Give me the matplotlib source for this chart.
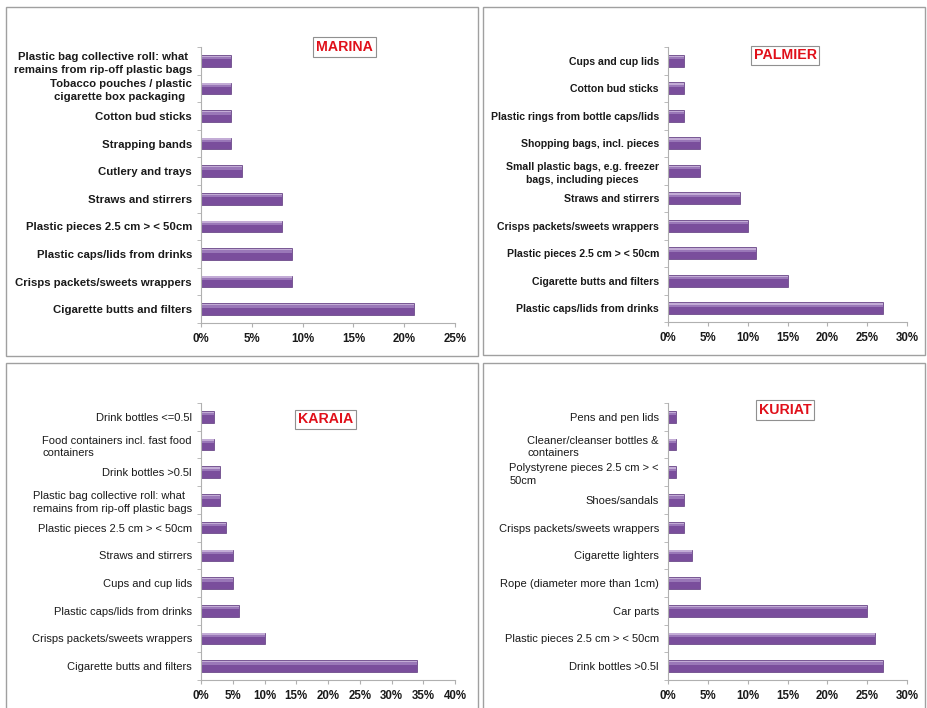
import matplotlib.pyplot as plt
from matplotlib.patches import Rectangle
from matplotlib.ticker import FuncFormatter
import numpy as np

plt.rcParams['font.family'] = ['Liberation Sans', 'DejaVu Sans']

W, H = 927, 708

# ---- data (listed bottom -> top, as drawn) ----
marina_labels = ['Cigarette butts and filters', 'Crisps packets/sweets wrappers',
                 'Plastic caps/lids from drinks', 'Plastic pieces 2.5 cm > < 50cm',
                 'Straws and stirrers', 'Cutlery and trays', 'Strapping bands',
                 'Cotton bud sticks', 'Tobacco pouches / plastic\ncigarette box packaging ',
                 'Plastic bag collective roll: what\nremains from rip-off plastic bags']
marina_values = [21, 9, 9, 8, 8, 4, 3, 3, 3, 3]

palmier_labels = ['Plastic caps/lids from drinks', 'Cigarette butts and filters',
                  'Plastic pieces 2.5 cm > < 50cm', 'Crisps packets/sweets wrappers',
                  'Straws and stirrers', 'Small plastic bags, e.g. freezer\nbags, including pieces',
                  'Shopping bags, incl. pieces', 'Plastic rings from bottle caps/lids',
                  'Cotton bud sticks', 'Cups and cup lids']
palmier_values = [27, 15, 11, 10, 9, 4, 4, 2, 2, 2]

karaia_labels = ['Cigarette butts and filters', 'Crisps packets/sweets wrappers',
                 'Plastic caps/lids from drinks', 'Cups and cup lids', 'Straws and stirrers',
                 'Plastic pieces 2.5 cm > < 50cm',
                 'Plastic bag collective roll: what\nremains from rip-off plastic bags',
                 'Drink bottles >0.5l', 'Food containers incl. fast food\ncontainers',
                 'Drink bottles <=0.5l']
karaia_values = [34, 10, 6, 5, 5, 4, 3, 3, 2, 2]

kuriat_labels = ['Drink bottles >0.5l', 'Plastic pieces 2.5 cm > < 50cm', 'Car parts',
                 'Rope (diameter more than 1cm)', 'Cigarette lighters',
                 'Crisps packets/sweets wrappers', 'Shoes/sandals',
                 'Polystyrene pieces 2.5 cm > <\n50cm', 'Cleaner/cleanser bottles &\ncontainers',
                 'Pens and pen lids']
kuriat_values = [27, 26, 25, 4, 3, 2, 2, 1, 1, 1]


def px_rect(x0, y0, x1, y1):
    return [x0 / W, 1 - y1 / H, (x1 - x0) / W, (y1 - y0) / H]


fig = plt.figure(figsize=(W / 100, H / 100), dpi=100)

# panel frames
for (x0, y0, x1, y1) in [(6, 7, 478, 356), (483, 7, 925, 355),
                         (6, 363, 478, 712), (483, 363, 925, 712)]:
    fig.patches.append(Rectangle((x0 / W, 1 - y1 / H), (x1 - x0) / W, (y1 - y0) / H,
                                 transform=fig.transFigure, fill=False,
                                 edgecolor='#a0a0a0', linewidth=1.0))


def panel(rect, labels, values, xmax, title, tpos, bold, align, lsize):
    ax = fig.add_axes(px_rect(*rect))
    y = np.arange(len(values))
    ax.barh(y, values, height=0.42, color='#7a4e9c', edgecolor='#5e3a7d', linewidth=0.5)
    # lighter band near the top of each bar, a rough stand-in for the gradient
    ax.barh(y + 0.1, values, height=0.1, color='#9a78b8', linewidth=0)
    ax.barh(y + 0.16, values, height=0.05, color='#c3acd6', linewidth=0)
    ax.set_xlim(0, xmax)
    ax.set_ylim(-0.5, len(values) - 0.5)
    ax.set_xticks(np.arange(0, xmax + 1, 5))
    ax.xaxis.set_major_formatter(FuncFormatter(lambda v, p: '%d%%' % v))
    ax.set_yticks(y)
    ax.set_yticklabels(labels, fontsize=lsize,
                       fontweight='bold' if bold else 'normal',
                       multialignment=align, color='#1a1a1a', linespacing=1.35)
    ax.set_yticks(np.arange(-0.5, len(values), 1), minor=True)
    ax.tick_params(axis='y', which='major', length=0, pad=6.5)
    ax.tick_params(axis='y', which='minor', length=3, color='#b0b0b0')
    ax.tick_params(axis='x', length=3, color='#b0b0b0', labelsize=8.3, pad=4)
    for t in ax.get_xticklabels():
        t.set_fontweight('bold')
        t.set_color('#1a1a1a')
    for s in ['top', 'right']:
        ax.spines[s].set_visible(False)
    for s in ['left', 'bottom']:
        ax.spines[s].set_color('#b0b0b0')
    ax.text(tpos[0], tpos[1], title, transform=ax.transAxes, ha='center',
            va='center_baseline', color='#e0101a', fontsize=10.2, fontweight='bold',
            bbox=dict(boxstyle='square,pad=0.2', facecolor='white', edgecolor='#909090',
                      linewidth=0.8))
    return ax


panel((201, 47, 455, 323), marina_labels, marina_values, 25, 'MARINA', (0.565, 1.005),
      True, 'center', 8.2)
panel((668, 47, 907, 322), palmier_labels, palmier_values, 30, 'PALMIER', (0.49, 0.975),
      True, 'center', 7.6)
panel((201, 403, 455, 680), karaia_labels, karaia_values, 40, 'KARAIA', (0.49, 0.946),
      False, 'left', 8.0)
panel((668, 403, 907, 680), kuriat_labels, kuriat_values, 30, 'KURIAT', (0.49, 0.98),
      False, 'left', 8.0)

fig.savefig('out.png', dpi=100)
